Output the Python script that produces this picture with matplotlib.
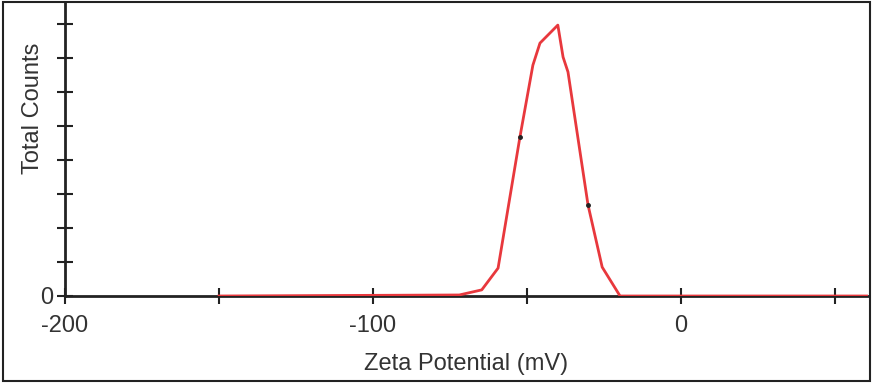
import numpy as np
import matplotlib.pyplot as plt
from matplotlib.patches import Rectangle

plt.rcParams['font.family'] = ['Liberation Sans', 'DejaVu Sans']

# zeta potential distribution (counts in arbitrary tick units)
zeta = [-150, -72.0, -64.7, -59.4, -52.3, -48.1, -45.8, -40.0, -38.3, -36.7,
        -30.2, -25.6, -19.8, 62]
counts = [0, 0.03, 0.18, 0.82, 4.68, 6.79, 7.44, 7.97, 7.03, 6.59,
          2.68, 0.85, 0, 0]

major_x = [-200, -100, 0]
minor_x = [-150, -50, 50]
y_ticks = np.arange(0, 9)

fig = plt.figure(figsize=(8.73, 3.83), dpi=100)
ax = fig.add_axes([65 / 873, 87 / 383, 803 / 873, 293 / 383])

ax.plot(zeta, counts, color='#e8383d', lw=2, zorder=3, clip_on=True)
ax.plot([zeta[4], zeta[10]], [counts[4], counts[10]], ls='none', marker='o',
        ms=2.5, color='#222222', zorder=4)

ax.set_xlim(-200, 60.7)
ax.set_ylim(0, 8.62)

ax.set_xticks(major_x)
ax.set_xticklabels(['-200', '-100', '0'])
ax.set_xticks(minor_x, minor=True)
ax.set_yticks(y_ticks)
ax.set_yticklabels(['0'] + [''] * (len(y_ticks) - 1))

for s in ['top', 'right']:
    ax.spines[s].set_visible(False)
for s in ['left', 'bottom']:
    ax.spines[s].set_linewidth(2)
    ax.spines[s].set_color('#222222')

ax.tick_params(axis='both', which='both', direction='inout', length=11,
               width=1.5, color='#222222', labelsize=17, labelcolor='#333333')
ax.tick_params(axis='x', pad=8)
ax.tick_params(axis='y', pad=3)

ax.set_xlabel('Zeta Potential (mV)', fontsize=17, color='#333333', labelpad=12)
ax.set_ylabel('Total Counts', fontsize=17, color='#333333')
ax.yaxis.set_label_coords(-0.026, 0.64)

fig.patches.append(Rectangle((0.004, 0.006), 0.992, 0.988, transform=fig.transFigure,
                             fill=False, lw=1.5, ec='#222222'))

fig.savefig('out.png', dpi=100)
